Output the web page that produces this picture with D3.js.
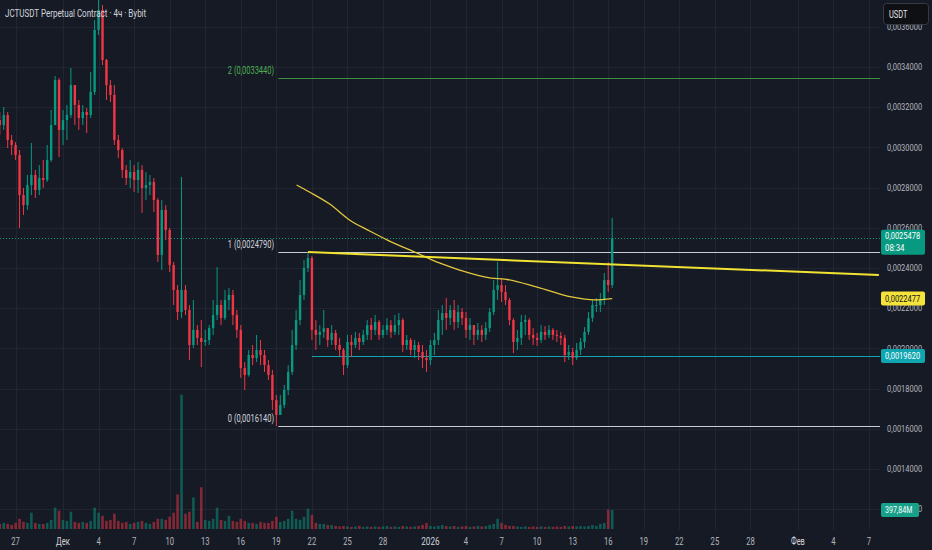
<!DOCTYPE html>
<html>
<head>
<meta charset="utf-8">
<script src="https://cdn.jsdelivr.net/npm/d3@7"></script>
<style>
  html, body { margin: 0; padding: 0; background: #161a25; }
  svg { display: block; font-family: Roboto, "Noto Sans", sans-serif; }
</style>
</head>
<body>
<svg id="chart" width="932" height="550"></svg>
<script>
// ---- data (8h bars) ----
var title = "JCTUSDT Perpetual Contract · 4ч · Bybit";
var firstBar = "2025-11-25T16:00Z";
var barHours = 8;
var firstOpen = 0.003136;

var close = [
  0.003111, 0.003161, 0.003037, 0.003012, 0.002962, 0.002763, 0.002713, 0.002813, 0.002863, 0.002788,
  0.002848, 0.002838, 0.002937, 0.003111, 0.003335, 0.003087, 0.003136, 0.003161, 0.003310, 0.003211,
  0.003146, 0.003176, 0.003161, 0.003276, 0.003584, 0.003684, 0.003435, 0.003310, 0.003261, 0.003037,
  0.002987, 0.002888, 0.002848, 0.002878, 0.002838, 0.002888, 0.002798, 0.002813, 0.002828, 0.002738,
  0.002465, 0.002689, 0.002589, 0.002415, 0.002291, 0.002181, 0.002291, 0.002191, 0.002017, 0.002092,
  0.002052, 0.002032, 0.002042, 0.002101, 0.002166, 0.002216, 0.002151, 0.002241, 0.002266, 0.002166,
  0.002092, 0.001902, 0.001868, 0.001967, 0.001952, 0.001992, 0.001967, 0.001917, 0.001868, 0.001743,
  0.001669, 0.001718, 0.001793, 0.001883, 0.002017, 0.002141, 0.002266, 0.002400, 0.002450, 0.002092,
  0.002067, 0.002082, 0.002101, 0.002042, 0.002077, 0.002017, 0.001992, 0.001917, 0.002032, 0.002017,
  0.002052, 0.002032, 0.002067, 0.002116, 0.002092, 0.002131, 0.002067, 0.002092, 0.002116, 0.002082,
  0.002116, 0.002141, 0.002017, 0.002042, 0.001992, 0.002017, 0.001982, 0.001952, 0.001942, 0.002017,
  0.002042, 0.002141, 0.002176, 0.002151, 0.002191, 0.002131, 0.002181, 0.002151, 0.002092, 0.002116,
  0.002067, 0.002092, 0.002067, 0.002101, 0.002181, 0.002291, 0.002315, 0.002281, 0.002241, 0.002141,
  0.002032, 0.002052, 0.002131, 0.002141, 0.002067, 0.002052, 0.002042, 0.002082, 0.002067, 0.002092,
  0.002067, 0.002062, 0.002052, 0.001967, 0.001982, 0.001952, 0.001992, 0.002032, 0.002082, 0.002151,
  0.002216, 0.002216, 0.002241, 0.002340, 0.002315, 0.0025478
];
var high = [
  0.003176, 0.003201, 0.003176, 0.003062, 0.003027, 0.002987, 0.002798, 0.002863, 0.003022, 0.002888,
  0.002912, 0.002937, 0.003012, 0.003186, 0.003355, 0.003345, 0.003186, 0.003211, 0.003395, 0.003310,
  0.003236, 0.003211, 0.003196, 0.003375, 0.003634, 0.003758, 0.003708, 0.003440, 0.003335, 0.003310,
  0.003062, 0.002997, 0.002912, 0.002937, 0.002912, 0.002927, 0.002912, 0.002878, 0.002863, 0.002848,
  0.002748, 0.002738, 0.002713, 0.002599, 0.002430, 0.002315, 0.002853, 0.002315, 0.002216, 0.002241,
  0.002116, 0.002141, 0.002092, 0.002116, 0.002241, 0.002405, 0.002241, 0.002291, 0.002300, 0.002291,
  0.002191, 0.002116, 0.001932, 0.001992, 0.002017, 0.002067, 0.002042, 0.001992, 0.001942, 0.001893,
  0.001768, 0.001768, 0.001818, 0.001917, 0.002092, 0.002191, 0.002340, 0.002440, 0.002479, 0.002460,
  0.002141, 0.002116, 0.002191, 0.002101, 0.002116, 0.002092, 0.002052, 0.002002, 0.002067, 0.002067,
  0.002082, 0.002077, 0.002092, 0.002141, 0.002151, 0.002166, 0.002141, 0.002116, 0.002151, 0.002141,
  0.002166, 0.002176, 0.002151, 0.002067, 0.002052, 0.002042, 0.002032, 0.002017, 0.001992, 0.002042,
  0.002077, 0.002191, 0.002216, 0.002251, 0.002216, 0.002241, 0.002216, 0.002201, 0.002181, 0.002151,
  0.002116, 0.002126, 0.002116, 0.002131, 0.002201, 0.002340, 0.002430, 0.002350, 0.002315, 0.002251,
  0.002151, 0.002092, 0.002166, 0.002166, 0.002151, 0.002101, 0.002077, 0.002116, 0.002111, 0.002116,
  0.002101, 0.002092, 0.002082, 0.002067, 0.002017, 0.002002, 0.002027, 0.002052, 0.002106, 0.002181,
  0.002241, 0.002251, 0.002276, 0.002375, 0.002430, 0.002649
];
var low = [
  0.003062, 0.003087, 0.002997, 0.002962, 0.002937, 0.002599, 0.002664, 0.002689, 0.002763, 0.002748,
  0.002763, 0.002798, 0.002828, 0.002927, 0.003111, 0.002952, 0.003012, 0.003037, 0.003146, 0.003111,
  0.003087, 0.003111, 0.003072, 0.003146, 0.003261, 0.003559, 0.003410, 0.003236, 0.003226, 0.003012,
  0.002947, 0.002848, 0.002813, 0.002798, 0.002778, 0.002773, 0.002674, 0.002738, 0.002763, 0.002679,
  0.002430, 0.002390, 0.002539, 0.002380, 0.002216, 0.002141, 0.002151, 0.002166, 0.001942, 0.002002,
  0.002017, 0.001907, 0.002012, 0.002017, 0.002067, 0.002141, 0.002116, 0.002141, 0.002191, 0.002116,
  0.002052, 0.001853, 0.001793, 0.001860, 0.001917, 0.001932, 0.001917, 0.001883, 0.001843, 0.001694,
  0.001614, 0.001669, 0.001703, 0.001768, 0.001868, 0.001992, 0.002116, 0.002241, 0.002380, 0.002042,
  0.001992, 0.002017, 0.002052, 0.002007, 0.002017, 0.001992, 0.001962, 0.001868, 0.001902, 0.001957,
  0.002002, 0.001992, 0.002017, 0.002042, 0.002042, 0.002067, 0.002042, 0.002052, 0.002067, 0.002052,
  0.002067, 0.002067, 0.001982, 0.001992, 0.001967, 0.001952, 0.001942, 0.001902, 0.001883, 0.001917,
  0.001967, 0.002017, 0.002067, 0.002092, 0.002116, 0.002092, 0.002101, 0.002116, 0.002052, 0.002042,
  0.002017, 0.002042, 0.002032, 0.002042, 0.002082, 0.002166, 0.002241, 0.002231, 0.002216, 0.002116,
  0.001977, 0.001992, 0.002017, 0.002067, 0.002042, 0.002017, 0.002012, 0.002027, 0.002042, 0.002052,
  0.002042, 0.002032, 0.002017, 0.001932, 0.001942, 0.001917, 0.001942, 0.001967, 0.002002, 0.002067,
  0.002131, 0.002181, 0.002181, 0.002216, 0.002281, 0.002300
];
// volume, millions USDT
var volume = [
  106, 128, 106, 85, 128, 213, 149, 128, 341, 128,
  106, 106, 128, 192, 447, 383, 192, 170, 362, 149,
  128, 149, 128, 170, 447, 341, 277, 170, 192, 320,
  170, 128, 149, 106, 128, 149, 170, 128, 106, 149,
  213, 213, 192, 256, 341, 724, 2812, 320, 362, 660,
  149, 873, 192, 170, 213, 447, 192, 170, 277, 170,
  149, 213, 170, 128, 128, 106, 149, 128, 128, 170,
  256, 149, 170, 213, 383, 213, 192, 256, 426, 298,
  128, 106, 106, 85, 85, 64, 53, 64, 53, 43,
  53, 64, 43, 53, 43, 53, 43, 53, 64, 43,
  53, 43, 64, 53, 43, 53, 64, 85, 128, 64,
  53, 64, 85, 64, 53, 64, 43, 53, 64, 43,
  53, 64, 53, 64, 85, 106, 213, 128, 85, 64,
  64, 53, 43, 53, 43, 53, 43, 53, 43, 53,
  43, 53, 43, 64, 53, 64, 53, 64, 53, 64,
  85, 64, 106, 128, 405, 397.84
];

// moving average (thin yellow curve)
var maTime = ["2025-12-20T17:00Z", "2025-12-21T19:00Z", "2025-12-23T12:00Z", "2025-12-25T04:00Z",
  "2025-12-26T21:00Z", "2025-12-28T09:00Z", "2025-12-30T20:00Z", "2026-01-01T18:00Z", "2026-01-03T11:00Z",
  "2026-01-06T03:00Z", "2026-01-07T06:00Z", "2026-01-10T00:00Z", "2026-01-12T21:00Z", "2026-01-14T20:00Z",
  "2026-01-16T08:00Z"];
var maValue = [0.002813, 0.002778, 0.002718, 0.002639, 0.002584, 0.002539, 0.002475, 0.002425, 0.002390,
  0.002350, 0.002345, 0.002305, 0.002256, 0.002241, 0.0022477];

// drawings
var fibLevel = [0, 1, 2];
var fibPrice = [0.001614, 0.002479, 0.003344];
var fibStart = "2025-12-19T04:00Z";
var supportPrice = 0.001962;
var supportStart = "2025-12-22T00:00Z";
var trendTime = ["2025-12-21T16:00Z", "2026-02-07T20:00Z"];
var trendPrice = [0.002479, 0.002365];
var lastPrice = 0.0025478;
var countdown = "08:34";
var lastVolumeLabel = "397,84M";
var maLast = 0.0022477;

// axes
var priceTicks = [0.0012, 0.0014, 0.0016, 0.0018, 0.0020, 0.0022, 0.0024, 0.0026, 0.0028, 0.0030,
  0.0032, 0.0034, 0.0036];
var timeTicks = ["2025-11-27", "2025-12-01", "2025-12-04", "2025-12-07", "2025-12-10", "2025-12-13",
  "2025-12-16", "2025-12-19", "2025-12-22", "2025-12-25", "2025-12-28", "2026-01-01", "2026-01-04",
  "2026-01-07", "2026-01-10", "2026-01-13", "2026-01-16", "2026-01-19", "2026-01-22", "2026-01-25",
  "2026-01-28", "2026-02-01", "2026-02-04", "2026-02-07"];
var timeLabels = ["27", "Дек", "4", "7", "10", "13", "16", "19", "22", "25", "28", "2026", "4", "7",
  "10", "13", "16", "19", "22", "25", "28", "Фев", "4", "7"];

// ---- layout ----
var W = 932, H = 550, plotR = 880, plotB = 530;
var up = "#089981", down = "#f23645";
var svg = d3.select("#chart");

var x = d3.scaleUtc()
  .domain([new Date("2025-12-01T00:00Z"), new Date("2026-02-07T00:00Z")])
  .range([63, 869]);
var y = d3.scaleLinear().domain([0.0014, 0.0036]).range([469, 26.8]);
var yVol = d3.scaleLinear().domain([0, 397.84]).range([529, 510]);

var t0 = +new Date(firstBar);
var bars = close.map(function(c, i) {
  var o = i === 0 ? firstOpen : close[i - 1];
  return { t: new Date(t0 + i * barHours * 3600e3), o: o, c: c, h: high[i], l: low[i], v: volume[i] };
});

function fmt(v) { return v.toFixed(7).replace(".", ","); }

function label(g, px, py, s, o) {
  o = o || {};
  var t = g.append("text")
    .attr("x", px).attr("y", py)
    .attr("dy", "0.35em")
    .attr("font-size", o.size || 10)
    .attr("font-weight", o.weight || 400)
    .attr("fill", o.fill || "#b2b5be")
    .attr("text-anchor", o.anchor || "start")
    .text(s);
  if (o.cw) t.attr("textLength", s.length * o.cw).attr("lengthAdjust", "spacingAndGlyphs");
  return t;
}

svg.append("rect").attr("width", W).attr("height", H).attr("fill", "#161a25");

svg.append("defs").append("clipPath").attr("id", "plot")
  .append("rect").attr("x", 0).attr("y", 0).attr("width", plotR).attr("height", plotB);

// grid
var grid = svg.append("g").attr("stroke", "#212532").attr("stroke-width", 1);
grid.selectAll(".gx").data(timeTicks).enter().append("line")
  .attr("x1", function(d) { return Math.round(x(new Date(d + "T00:00Z"))) + 0.5; })
  .attr("x2", function(d) { return Math.round(x(new Date(d + "T00:00Z"))) + 0.5; })
  .attr("y1", 0).attr("y2", plotB);
grid.selectAll(".gy").data(priceTicks).enter().append("line")
  .attr("x1", 0).attr("x2", plotR)
  .attr("y1", function(d) { return Math.round(y(d)) + 0.5; })
  .attr("y2", function(d) { return Math.round(y(d)) + 0.5; });

var plot = svg.append("g").attr("clip-path", "url(#plot)");

// volume
plot.append("g").selectAll("rect").data(bars).enter().append("rect")
  .attr("x", function(d) { return x(d.t) - 1.3; })
  .attr("width", 2.6)
  .attr("y", function(d) { return yVol(d.v); })
  .attr("height", function(d) { return yVol(0) - yVol(d.v); })
  .attr("fill", function(d) { return d.c >= d.o ? up : down; })
  .attr("opacity", 0.5);

// fib levels
var fibColor = ["#c9ccd4", "#c9ccd4", "#3f8f43"];
var fibText = ["#d1d4dc", "#d1d4dc", "#4caf50"];
fibLevel.forEach(function(lv, i) {
  var yy = Math.round(y(fibPrice[i])) + 0.5;
  plot.append("line").attr("x1", x(new Date(fibStart))).attr("x2", plotR)
    .attr("y1", yy).attr("y2", yy).attr("stroke", fibColor[i]).attr("stroke-width", 1);
  label(svg, 274, yy - 8.5, lv + " (" + fmt(fibPrice[i]) + ")",
    { anchor: "end", fill: fibText[i], cw: 3.55, size: 10 });
});

// support line
plot.append("line").attr("x1", x(new Date(supportStart))).attr("x2", plotR)
  .attr("y1", Math.round(y(supportPrice)) + 0.5).attr("y2", Math.round(y(supportPrice)) + 0.5)
  .attr("stroke", "#11a3b0").attr("stroke-width", 1);

// last price dotted line
plot.append("line").attr("x1", 0).attr("x2", plotR)
  .attr("y1", Math.round(y(lastPrice)) + 0.5).attr("y2", Math.round(y(lastPrice)) + 0.5)
  .attr("stroke", up).attr("stroke-dasharray", "1,2").attr("stroke-width", 1);

// candles
var candle = plot.append("g").selectAll("g").data(bars).enter().append("g")
  .attr("fill", function(d) { return d.c >= d.o ? up : down; })
  .attr("stroke", function(d) { return d.c >= d.o ? up : down; });
candle.append("line")
  .attr("x1", function(d) { return x(d.t); }).attr("x2", function(d) { return x(d.t); })
  .attr("y1", function(d) { return y(Math.max(d.h, d.o, d.c)); })
  .attr("y2", function(d) { return y(Math.min(d.l, d.o, d.c)); })
  .attr("stroke-width", 1);
candle.append("rect")
  .attr("stroke", "none")
  .attr("x", function(d) { return x(d.t) - 1.2; })
  .attr("width", 2.4)
  .attr("y", function(d) { return y(Math.max(d.o, d.c)); })
  .attr("height", function(d) { return Math.max(1, Math.abs(y(d.o) - y(d.c))); });

// moving average
var maLine = d3.line()
  .x(function(d, i) { return x(new Date(maTime[i])); })
  .y(function(d) { return y(d); })
  .curve(d3.curveMonotoneX);
plot.append("path").datum(maValue).attr("d", maLine)
  .attr("fill", "none").attr("stroke", "#e3c83c").attr("stroke-width", 1.3);

// trend line
plot.append("line")
  .attr("x1", x(new Date(trendTime[0]))).attr("y1", y(trendPrice[0]))
  .attr("x2", x(new Date(trendTime[1]))).attr("y2", y(trendPrice[1]))
  .attr("stroke", "#f2e231").attr("stroke-width", 2);

// title
label(svg, 5, 13, title, { fill: "#d1d4dc", cw: 3.62, size: 10.5 });

// price axis
var axis = svg.append("g");
priceTicks.forEach(function(p) {
  label(axis, 887, y(p), fmt(p), { cw: 3.9, size: 9 });
});

// time axis
timeTicks.forEach(function(d, i) {
  var s = timeLabels[i];
  var bold = isNaN(+s) || s.length === 4;
  label(axis, x(new Date(d + "T00:00Z")), 541, s,
    { anchor: "middle", cw: bold ? 4.6 : 4.3, size: 10, fill: bold ? "#d1d4dc" : "#b2b5be" });
});

// axis tags
function tag(py, h, bg, fg, lines, w) {
  var g = svg.append("g");
  g.append("rect").attr("x", 881).attr("y", py - h / 2).attr("width", w || 44).attr("height", h)
    .attr("rx", 2).attr("fill", bg);
  lines.forEach(function(s, i) {
    label(g, 885, py - (lines.length - 1) * 6 + i * 12, s, { fill: fg, cw: 3.9, size: 9 });
  });
}
tag(y(maLast), 14, "#f5e33a", "#131722", [fmt(maLast)]);
tag(Math.round(y(supportPrice)), 14, "#0fa6b2", "#ffffff", [fmt(supportPrice)]);
tag(y(lastPrice) + 4, 25, up, "#ffffff", [fmt(lastPrice), countdown]);
tag(yVol(397.84), 14, "#17a08a", "#ffffff", [lastVolumeLabel], 38);

// currency box
svg.append("rect").attr("x", 883.5).attr("y", 3.5).attr("width", 45).attr("height", 21)
  .attr("rx", 3).attr("fill", "#0f1014").attr("stroke", "#363a45");
label(svg, 889, 14, "USDT", { fill: "#e6e8ee", cw: 4.6, size: 10 });
</script>
</body>
</html>
